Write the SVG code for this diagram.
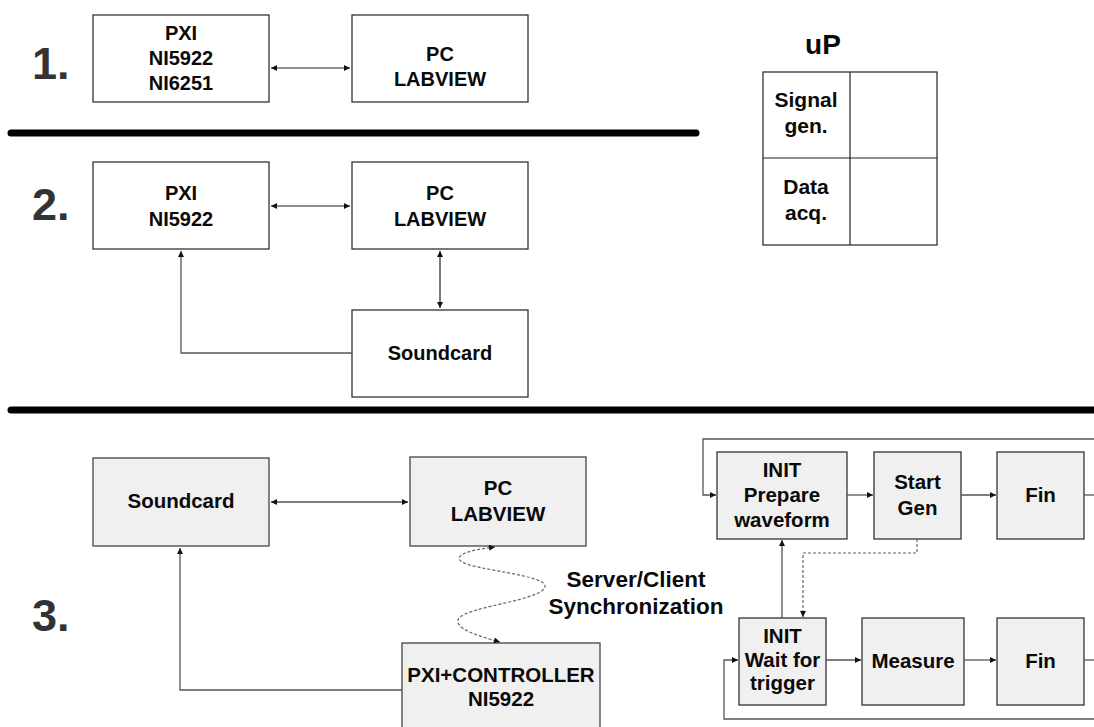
<svg xmlns="http://www.w3.org/2000/svg" width="1094" height="727" viewBox="0 0 1094 727">
<style>
text{font-family:"Liberation Sans",Arial,sans-serif;font-weight:bold;fill:#0a0a0a;text-anchor:middle}
.n{font-size:20px}
.n3{font-size:20.5px}
.big{font-size:45px;fill:#333;text-anchor:start}
.w{fill:#fff;stroke:#333;stroke-width:1.3}
.g{fill:#f0f0f0;stroke:#444;stroke-width:1.3}
.c{fill:none;stroke:#222;stroke-width:1.2}
.c3{fill:none;stroke:#555;stroke-width:1.3}
.d{fill:none;stroke:#666;stroke-width:1.2;stroke-dasharray:3 2}
.sep{stroke:#000;stroke-width:7;stroke-linecap:round}
</style>
<defs>
<marker id="ah" viewBox="0 0 10 10" refX="10" refY="5" markerWidth="9" markerHeight="6" markerUnits="userSpaceOnUse" orient="auto-start-reverse">
<path d="M0,0 L10,5 L0,10 z" fill="#111"/>
</marker>
</defs>
<rect width="1094" height="727" fill="#fff"/>

<!-- section labels and separators -->
<text class="big" x="32" y="79">1.</text>
<text class="big" x="32" y="220">2.</text>
<text class="big" x="32" y="631">3.</text>
<line class="sep" x1="11" y1="133" x2="696" y2="133"/>
<line class="sep" x1="11" y1="410" x2="1100" y2="410"/>

<!-- section 1 -->
<g id="s1-pxi"><rect class="w" x="93" y="15" width="176" height="87"/>
<text class="n" x="181" y="40">PXI</text><text class="n" x="181" y="65">NI5922</text><text class="n" x="181" y="90">NI6251</text></g>
<g id="s1-pc"><rect class="w" x="352" y="15" width="176" height="87"/>
<text class="n" x="440" y="61">PC</text><text class="n" x="440" y="86">LABVIEW</text></g>

<!-- uP table -->
<g id="up">
<text x="823" y="54" style="font-size:28px">uP</text>
<rect class="w" x="763" y="72" width="174" height="173"/>
<line class="c" x1="850" y1="72" x2="850" y2="245"/>
<line class="c" x1="763" y1="158" x2="937" y2="158"/>
<text x="806" y="107" style="font-size:21px">Signal</text><text x="806" y="133" style="font-size:21px">gen.</text>
<text x="806" y="194" style="font-size:21px">Data</text><text x="806" y="220" style="font-size:21px">acq.</text>
</g>

<!-- section 2 -->
<g id="s2-pxi"><rect class="w" x="93" y="162" width="176" height="87"/>
<text class="n" x="181" y="200">PXI</text><text class="n" x="181" y="226">NI5922</text></g>
<g id="s2-pc"><rect class="w" x="352" y="162" width="176" height="87"/>
<text class="n" x="440" y="200">PC</text><text class="n" x="440" y="226">LABVIEW</text></g>
<g id="s2-sound"><rect class="w" x="352" y="310" width="176" height="87"/>
<text class="n" x="440" y="360">Soundcard</text></g>

<!-- section 3 left -->
<g id="s3-sound"><rect class="g" x="93" y="458" width="176" height="88"/>
<text class="n3" x="181" y="508">Soundcard</text></g>
<g id="s3-pc"><rect class="g" x="410" y="457" width="176" height="89"/>
<text class="n3" x="498" y="495">PC</text><text class="n3" x="498" y="521">LABVIEW</text></g>
<g id="s3-pxi"><rect class="g" x="402" y="643" width="198" height="90"/>
<text class="n3" x="501" y="682">PXI+CONTROLLER</text><text class="n3" x="501" y="706">NI5922</text></g>
<g id="sync-label">
<text x="636" y="587" style="font-size:22.5px">Server/Client</text>
<text x="636" y="614" style="font-size:22.5px">Synchronization</text></g>

<!-- section 3 right flowchart -->
<g id="f-init1"><rect class="g" x="717" y="452" width="130" height="87" style="stroke:#333"/>
<text class="n3" x="782" y="477">INIT</text><text class="n3" x="782" y="502">Prepare</text><text class="n3" x="782" y="527">waveform</text></g>
<g id="f-start"><rect class="g" x="874" y="452" width="87" height="87" style="stroke:#333"/>
<text class="n3" x="917.5" y="489">Start</text><text class="n3" x="917.5" y="515">Gen</text></g>
<g id="f-fin1"><rect class="g" x="997" y="452" width="87" height="87" style="stroke:#333"/>
<text class="n3" x="1040.5" y="502">Fin</text></g>
<g id="f-init2"><rect class="g" x="739" y="618" width="87" height="87" style="stroke:#333"/>
<text class="n3" x="782.5" y="643">INIT</text><text class="n3" x="782.5" y="667">Wait for</text><text class="n3" x="782.5" y="690">trigger</text></g>
<g id="f-measure"><rect class="g" x="862" y="618" width="102" height="87" style="stroke:#333"/>
<text class="n3" x="913" y="668">Measure</text></g>
<g id="f-fin2"><rect class="g" x="997" y="618" width="87" height="87" style="stroke:#333"/>
<text class="n3" x="1040.5" y="668">Fin</text></g>

<!-- connectors -->
<g id="connectors">
<path class="c" d="M271,68 H350" marker-start="url(#ah)" marker-end="url(#ah)"/>
<path class="c" d="M271,206 H350" marker-start="url(#ah)" marker-end="url(#ah)"/>
<path class="c" d="M440,251 V308" marker-start="url(#ah)" marker-end="url(#ah)"/>
<path class="c3" d="M352,353 H181 V251" marker-end="url(#ah)"/>
<path class="c3" d="M271,502 H408" marker-start="url(#ah)" marker-end="url(#ah)"/>
<path class="c3" d="M402,690 H180 V548" marker-end="url(#ah)"/>
<path class="d" d="M495,547 C470,550 452,555 462,562 C475,570 545,575 545,586 C545,600 470,606 459,618 C452,628 478,636 500,642" marker-start="url(#ah)" marker-end="url(#ah)"/>
<path class="c3" d="M1094,439 H703 V495 H716" marker-end="url(#ah)"/>
<path class="c3" d="M847,495 H873" marker-end="url(#ah)"/>
<path class="c3" d="M961,495 H996" marker-end="url(#ah)"/>
<path class="c3" d="M1084,495 H1094"/>
<path class="c3" d="M782,618 V540" marker-end="url(#ah)"/>
<path class="d" d="M917,539 V553 H803 V617" marker-end="url(#ah)"/>
<path class="c3" d="M1094,719 H724 V660 H738" marker-end="url(#ah)"/>
<path class="c3" d="M826,660 H861" marker-end="url(#ah)"/>
<path class="c3" d="M964,660 H996" marker-end="url(#ah)"/>
<path class="c3" d="M1084,660 H1094"/>
</g>
</svg>
